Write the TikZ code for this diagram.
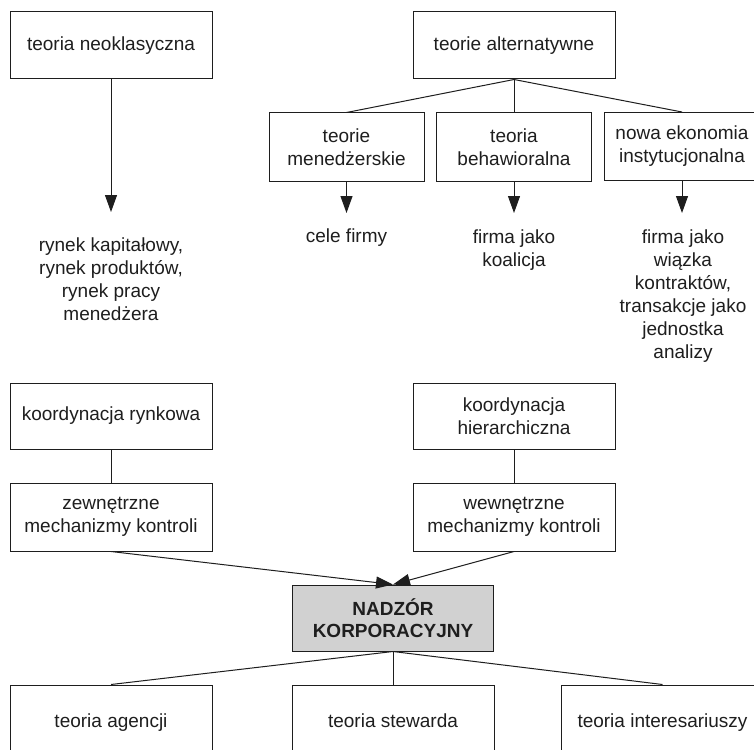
\documentclass[tikz,border=0pt]{standalone}
\usepackage{fontspec}
\setmainfont{Liberation Sans}
\usetikzlibrary{arrows.meta}
\definecolor{boxgray}{RGB}{209,209,209}
\definecolor{ink}{RGB}{30,30,30}

\begin{document}
\begin{tikzpicture}[x=1pt,y=-1pt,
  every node/.style={font=\fontsize{19}{23}\selectfont, text=ink},
  box/.style={draw=ink, line width=1pt, align=center, inner sep=0pt,
              minimum width=202pt, minimum height=67pt},
  oneline/.style={text height=13.9pt, text depth=4.1pt},
  smallbox/.style={box, minimum width=155pt, minimum height=68pt},
  mainbox/.style={box, fill=boxgray, font=\fontsize{19}{22}\selectfont\bfseries},
  label/.style={align=center, inner sep=0pt, anchor=north},
  link/.style={draw=ink, line width=1pt},
  arrow/.style={link, -{Triangle[length=17pt,width=12pt]}}
]
\clip (0,0) rectangle (754,749);
\fill[white] (0,0) rectangle (754,749);

% --- upper part: two schools of the theory of the firm ---
\node[box, oneline] (neo) at (111,45.5) {teoria neoklasyczna};
\node[box, oneline] (alt) at (514,45.5) {teorie alternatywne};

\node[smallbox] (men) at (346.5,147) {teorie\\menedżerskie};
\node[smallbox] (beh) at (514,147) {teoria\\behawioralna};
\node[smallbox] (nie) at (682,146.5) {nowa ekonomia\\instytucjonalna};

\draw[link] (alt.south) -- (men.north);
\draw[link] (alt.south) -- (beh.north);
\draw[link] (alt.south) -- (nie.north);

% arrow tips and the texts under them
\coordinate (neoTip) at (111,212);
\coordinate (menTip) at (346.5,213);
\coordinate (behTip) at (514,213);
\coordinate (nieTip) at (682,213);

\draw[arrow] (neo.south) -- (neoTip);
\draw[arrow] (men.south) -- (menTip);
\draw[arrow] (beh.south) -- (behTip);
\draw[arrow] (nie.south) -- (nieTip);

\node[label] (rynek) at (111,237.4) {rynek kapitałowy,\\rynek produktów,\\rynek pracy\\menedżera};
\node[label] (cele) at (346.5,228.3) {cele firmy};
\node[label] (koal) at (514,229.3) {firma jako\\koalicja};
\node[label] (kontr) at (683,229.3) {firma jako\\wiązka\\kontraktów,\\transakcje jako\\jednostka\\analizy};

% --- coordination and control mechanisms ---
\node[box, oneline, minimum height=66pt] (kr) at (111,416) {koordynacja rynkowa};
\node[box, minimum height=66pt] (kh) at (514,416) {koordynacja\\hierarchiczna};
\node[box, minimum height=68pt] (zm) at (111,517) {zewnętrzne\\mechanizmy kontroli};
\node[box, minimum height=68pt] (wm) at (514,517) {wewnętrzne\\mechanizmy kontroli};

\draw[link] (kr.south) -- (zm.north);
\draw[link] (kh.south) -- (wm.north);

% --- corporate governance and its theories ---
\node[mainbox, minimum width=201pt, minimum height=66pt] (nad) at (393,618) {NADZÓR\\KORPORACYJNY};

\draw[arrow] (zm.south) -- (nad.north);
\draw[arrow] (wm.south) -- (nad.north);

\node[box, oneline, minimum height=76pt] (ag) at (111,723) {teoria agencji};
\node[box, oneline, minimum height=76pt] (st) at (393,723) {teoria stewarda};
\node[box, oneline, minimum height=76pt] (in) at (662.5,723) {teoria interesariuszy};

\draw[link] (nad.south) -- (ag.north);
\draw[link] (nad.south) -- (st.north);
\draw[link] (nad.south) -- (in.north);
\end{tikzpicture}
\end{document}
